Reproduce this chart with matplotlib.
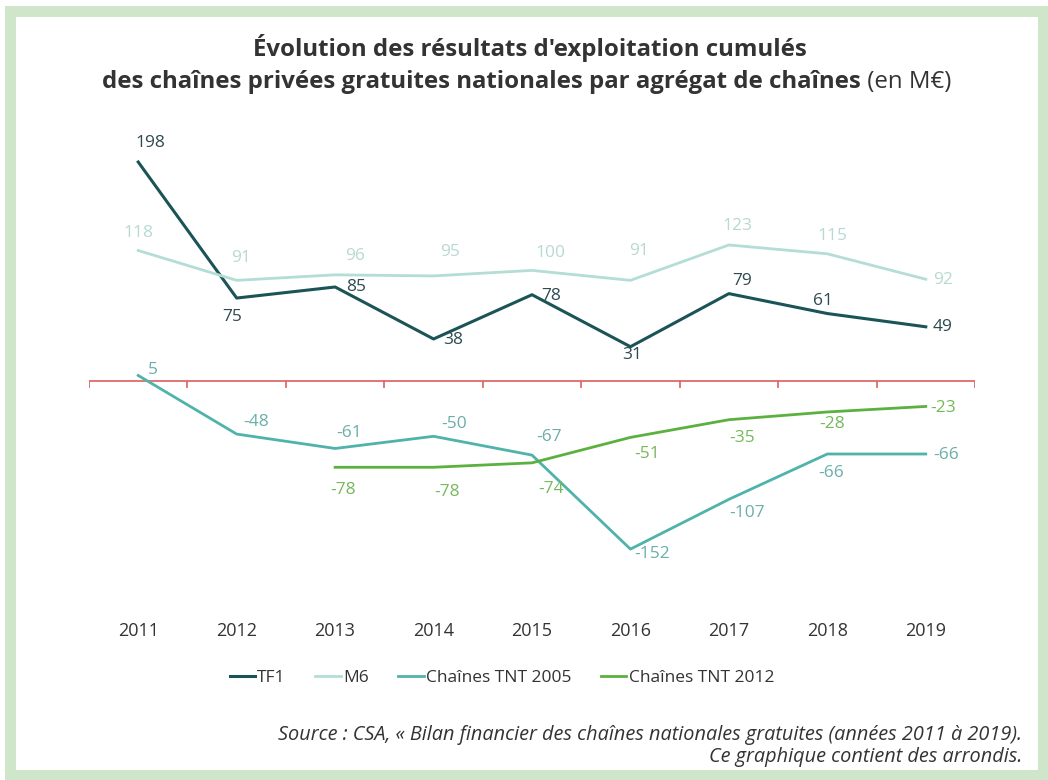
import matplotlib
matplotlib.use("Agg")
import matplotlib.pyplot as plt
import matplotlib.transforms as mtransforms
from matplotlib.patches import Rectangle
import numpy as np

# ---- data ----
years = ["2011", "2012", "2013", "2014", "2015", "2016", "2017", "2018", "2019"]
tf1 = [198, 75, 85, 38, 78, 31, 79, 61, 49]
m6 = [118, 91, 96, 95, 100, 91, 123, 115, 92]
tnt2005 = [5, -48, -61, -50, -67, -152, -107, -66, -66]
tnt2012 = [None, None, -78, -78, -74, -51, -35, -28, -23]
series_names = ["TF1", "M6", "Chaînes TNT 2005", "Chaînes TNT 2012"]

# label offsets in pixels (dx, dy; dy positive = up)
off_tf1 = [(12, 19), (-4, -19), (21, 0), (20, -1), (19, -1), (2, -8), (13, 13), (-4, 13), (17, 0)]
off_m6 = [(0, 17), (4, 22), (20, 19), (17, 24), (18, 17), (9, 29), (9, 19), (5, 18), (17, -1)]
off_t05 = [(15, 5), (19, 12), (14, 15), (21, 12), (17, 18), (22, -5), (18, -14), (4, -19), (20, -1)]
off_t12 = [None, None, (8, -23), (14, -25), (19, -26), (17, -17), (13, -18), (5, -12), (17, -2)]

c_tf1, c_m6, c_t05, c_t12 = "#1b5457", "#b4ddd6", "#4fb3ab", "#5cb040"
lc_tf1, lc_m6, lc_t05, lc_t12 = "#2e4a4f", "#b8d9d3", "#6aaeaa", "#76b85a"

W, H = 1048, 780
fig = plt.figure(figsize=(W / 100, H / 100), dpi=100)
FONT = "Open Sans"
TXT = "#333333"

# frame
fig.patches.append(Rectangle((5 / W, 0), 1 - 5 / W, 1 - 6 / H, transform=fig.transFigure,
                             facecolor="#cfe6cb", edgecolor="none", zorder=-2))
fig.patches.append(Rectangle((16 / W, 10 / H), (1038 - 16) / W, (770 - 17) / H,
                             transform=fig.transFigure, facecolor="white", edgecolor="none", zorder=-1))

# axes placement (pixels)
x_left, x_right = 89, 975
y0_px = 381  # pixel row of value 0
scale = 1.106  # px per unit
ymin, ymax = -200, 220
ax_bottom_px = y0_px - ymin * scale
ax_top_px = y0_px - ymax * scale
ax = fig.add_axes([x_left / W, 1 - ax_bottom_px / H, (x_right - x_left) / W,
                   (ax_bottom_px - ax_top_px) / H])
ax.set_xlim(-0.5, len(years) - 0.5)
ax.set_ylim(ymin, ymax)
ax.patch.set_alpha(0)
for s in ax.spines.values():
    s.set_visible(False)
ax.set_yticks([])
ax.set_xticks([])

# zero line with ticks at boundaries
ax.axhline(0, color="#e06a6a", lw=1.3, zorder=1)
for b in np.arange(-0.5, len(years), 1.0):
    ax.plot([b, b], [0, -5.5], color="#e06a6a", lw=1.3, zorder=1)

LBL = 12.5

def plot_series(vals, color, lcolor, offs, label, lw):
    xs = [i for i, v in enumerate(vals) if v is not None]
    ys = [v for v in vals if v is not None]
    ax.plot(xs, ys, color=color, lw=lw, label=label, zorder=3, solid_joinstyle="round")
    for i, v in zip(xs, ys):
        dx, dy = offs[i]
        ax.annotate(str(v), (i, v), xytext=(dx * 0.72, dy * 0.72), textcoords="offset points",
                    ha="center", va="center", fontsize=LBL, color=lcolor, family=FONT, zorder=4)

plot_series(tf1, c_tf1, lc_tf1, off_tf1, series_names[0], 2.2)
plot_series(m6, c_m6, lc_m6, off_m6, series_names[1], 2.0)
plot_series(tnt2005, c_t05, lc_t05, off_t05, series_names[2], 2.0)
plot_series(tnt2012, c_t12, lc_t12, off_t12, series_names[3], 2.0)

# year labels
ytrans = mtransforms.blended_transform_factory(ax.transData, fig.transFigure)
for i, yname in enumerate(years):
    ax.text(i, 1 - 631 / H, yname, transform=ytrans, ha="center", va="center",
            fontsize=13, color=TXT, family=FONT)

# legend
leg = ax.legend(loc="center", bbox_to_anchor=(502 / W, 1 - 678 / H), bbox_transform=fig.transFigure,
                ncol=4, frameon=False, handlelength=1.45, handletextpad=0.15, columnspacing=1.7,
                prop={"family": FONT, "size": LBL})
for t in leg.get_texts():
    t.set_color(TXT)

# title
TS = 17.3
fig.text(530 / W, 1 - 48 / H, "Évolution des résultats d'exploitation cumulés", ha="center", va="center",
         fontsize=TS, fontweight="bold", color=TXT, family=FONT)
t_b = fig.text(0, 1 - 82 / H, "des chaînes privées gratuites nationales par agrégat de chaînes",
               ha="left", va="center", fontsize=TS, fontweight="bold", color=TXT, family=FONT)
t_n = fig.text(0, 1 - 82 / H, " (en M€)", ha="left", va="center", fontsize=TS, color=TXT, family=FONT)
fig.canvas.draw()
r = fig.canvas.get_renderer()
wb = t_b.get_window_extent(r).width
wn = t_n.get_window_extent(r).width
start = 527 - (wb + wn) / 2
t_b.set_x(start / W)
t_n.set_x((start + wb) / W)

# source
fig.text(1022 / W, 1 - 735 / H,
         "Source : CSA, « Bilan financier des chaînes nationales gratuites (années 2011 à 2019).",
         ha="right", va="center", fontsize=14.3, style="italic", color=TXT, family=FONT)
fig.text(1022 / W, 1 - 757 / H, "Ce graphique contient des arrondis.",
         ha="right", va="center", fontsize=14.3, style="italic", color=TXT, family=FONT)

fig.savefig("out.png", dpi=100)
